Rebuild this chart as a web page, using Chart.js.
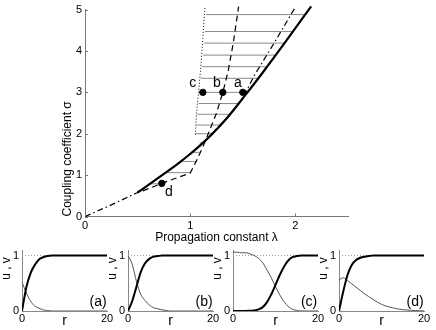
<!DOCTYPE html>
<html>
<head>
<meta charset="utf-8">
<script src="https://cdn.jsdelivr.net/npm/chart.js@4/dist/chart.umd.min.js"></script>
<style>
  body { margin: 0; background: #fff; }
  #wrap { position: relative; width: 436px; height: 330px; overflow: hidden; }
  canvas { position: absolute; }
</style>
</head>
<body>
<div id="wrap">
  <canvas id="main" width="436" height="245" style="left:0px;top:0px"></canvas>
  <canvas id="pa" width="117" height="90" style="left:0px;top:240px"></canvas>
  <canvas id="pb" width="117" height="90" style="left:106px;top:240px"></canvas>
  <canvas id="pc" width="117" height="90" style="left:211px;top:240px"></canvas>
  <canvas id="pd" width="117" height="90" style="left:317px;top:240px"></canvas>
</div>
<script>
// main plot: coupling sigma vs propagation constant lambda
const lamTicks = [0, 1, 2];
const sigTicks = [0, 1, 2, 3, 4, 5];

const lamSolid = [0.50, 0.60, 0.70, 0.80, 0.90, 1.00, 1.10, 1.20, 1.35, 1.52, 1.69, 1.90, 2.15];
const sigSolid = [0.58, 0.76, 0.94, 1.12, 1.31, 1.51, 1.73, 1.97, 2.38, 2.92, 3.48, 4.20, 5.08];

const lamDashDot = [0.00, 0.25, 0.50, 0.70, 0.90, 1.10, 1.35, 1.50, 1.61, 1.80, 1.99];
const sigDashDot = [0.00, 0.28, 0.58, 0.94, 1.31, 1.73, 2.38, 2.86, 3.41, 4.20, 5.02];

const lamDash = [0.55, 0.75, 1.00, 1.06, 1.12, 1.18, 1.25, 1.31, 1.36, 1.41, 1.46];
const sigDash = [0.62, 0.82, 1.05, 1.35, 1.68, 2.05, 2.50, 3.00, 3.50, 4.20, 5.07];

const lamDot = [1.05, 1.06, 1.08, 1.10, 1.12, 1.14];
const sigDot = [1.98, 2.50, 3.00, 3.60, 4.30, 5.05];

// grey hatching lines: level, left end, right end
const hatchSig  = [4.88, 4.47, 4.19, 3.90, 3.62, 3.34, 3.00, 2.73, 2.47, 2.21, 2.00, 1.78, 1.55, 1.33, 1.06, 0.79];
const hatchFrom = [1.15, 1.14, 1.13, 1.12, 1.11, 1.10, 1.09, 1.08, 1.07, 1.06, 1.05, 1.09, 1.02, 0.91, 0.77, 0.62];
const hatchTo   = [2.08, 1.97, 1.89, 1.81, 1.73, 1.64, 1.53, 1.45, 1.38, 1.30, 1.22, 1.13, 1.09, 1.05, 1.01, 0.76];

const markNames = ['a', 'b', 'c', 'd'];
const lamMarks = [1.50, 1.31, 1.12, 0.73];
const sigMarks = [3.00, 3.00, 3.00, 0.80];

// small panels: profiles u (thick) and v (thin) against r
const rTicks = [0, 20];
const uvTicks = [0, 1];
const rGrid = [0, 1, 2, 3, 4, 5, 6, 7, 8, 9, 10, 11, 12, 13, 14, 15, 16, 17, 18, 19, 20];
const uA = [0, 0.42, 0.68, 0.83, 0.93, 0.97, 0.99, 1, 1, 1, 1, 1, 1, 1, 1, 1, 1, 1, 1, 1, 1];
const vA = [0.52, 0.33, 0.18, 0.09, 0.05, 0.02, 0.01, 0, 0, 0, 0, 0, 0, 0, 0, 0, 0, 0, 0, 0, 0];
const uB = [0, 0.18, 0.44, 0.70, 0.86, 0.94, 0.98, 0.99, 1, 1, 1, 1, 1, 1, 1, 1, 1, 1, 1, 1, 1];
const vB = [1.00, 0.84, 0.53, 0.30, 0.19, 0.11, 0.06, 0.04, 0.02, 0.01, 0, 0, 0, 0, 0, 0, 0, 0, 0, 0, 0];
const uC = [0, 0, 0, 0, 0.005, 0.01, 0.03, 0.07, 0.16, 0.30, 0.47, 0.65, 0.80, 0.91, 0.97, 0.99, 1, 1, 1, 1, 1];
const vC = [1.06, 1.06, 1.05, 1.05, 1.03, 1.00, 0.95, 0.87, 0.74, 0.60, 0.44, 0.29, 0.17, 0.08, 0.03, 0.01, 0, 0, 0, 0, 0];
const uD = [0, 0.35, 0.65, 0.83, 0.92, 0.96, 0.98, 0.99, 1, 1, 1, 1, 1, 1, 1, 1, 1, 1, 1, 1, 1];
const vD = [0.56, 0.60, 0.55, 0.49, 0.43, 0.37, 0.31, 0.26, 0.21, 0.16, 0.12, 0.09, 0.07, 0.05, 0.035, 0.025, 0.018, 0.012, 0.008, 0.005, 0.003];

Chart.defaults.font.family = "'Liberation Sans', Arial, Helvetica, sans-serif";
Chart.defaults.color = '#000';

const axisColor = '#777';

function pts(xs, ys) {
  return xs.map((x, i) => ({x: x, y: ys[i]}));
}

function hatchPoints() {
  let out = [];
  for (let i = 0; i < hatchSig.length; i++) {
    out.push({x: hatchFrom[i], y: hatchSig[i]});
    out.push({x: hatchTo[i], y: hatchSig[i]});
    out.push({x: null, y: null});
  }
  return out;
}

// little tick marks drawn inside the axes
const insideTicks = {
  id: 'insideTicks',
  afterDraw(chart) {
    const {ctx, chartArea, scales} = chart;
    ctx.save();
    ctx.strokeStyle = axisColor;
    ctx.lineWidth = 1;
    ctx.beginPath();
    scales.x.ticks.forEach(t => {
      let px = Math.round(scales.x.getPixelForValue(t.value)) + 0.5;
      ctx.moveTo(px, chartArea.bottom);
      ctx.lineTo(px, chartArea.bottom - 3);
    });
    scales.y.ticks.forEach(t => {
      let py = Math.round(scales.y.getPixelForValue(t.value)) + 0.5;
      ctx.moveTo(chartArea.left, py);
      ctx.lineTo(chartArea.left + 3, py);
    });
    ctx.stroke();
    ctx.restore();
  }
};

// letters next to the marked points
const markLabels = {
  id: 'markLabels',
  afterDatasetsDraw(chart, args, opts) {
    const {ctx, scales} = chart;
    ctx.save();
    ctx.font = opts.font;
    ctx.fillStyle = '#000';
    ctx.textAlign = 'center';
    ctx.textBaseline = 'middle';
    markNames.forEach((name, i) => {
      let px = scales.x.getPixelForValue(lamMarks[i]) + opts.offsets[i][0];
      let py = scales.y.getPixelForValue(sigMarks[i]) + opts.offsets[i][1];
      ctx.fillText(name, px, py);
    });
    ctx.restore();
  }
};

// panel tag (a)..(d) and the u,v axis label
const panelText = {
  id: 'panelText',
  afterDraw(chart, args, opts) {
    const {ctx, chartArea, scales} = chart;
    ctx.save();
    ctx.fillStyle = '#000';
    ctx.textBaseline = 'middle';
    ctx.textAlign = 'center';
    ctx.font = "14px 'Liberation Sans', Arial, sans-serif";
    ctx.fillText(opts.tag, scales.x.getPixelForValue(17.9), scales.y.getPixelForValue(0.16));
    ctx.font = "12px 'Liberation Sans', Arial, sans-serif";
    ctx.translate(chartArea.left - 15, (chartArea.top + chartArea.bottom) / 2 - 12);
    ctx.rotate(-Math.PI / 2);
    ctx.fillText('u , v', 0, 0);
    ctx.restore();
  }
};

let mainChart = new Chart(document.getElementById('main'), {
  type: 'scatter',
  data: {
    datasets: [
      {
        data: pts(lamMarks, sigMarks),
        showLine: false,
        pointRadius: 3.2,
        pointBackgroundColor: '#000',
        pointBorderColor: '#000',
        clip: false
      },
      {
        data: pts(lamSolid, sigSolid),
        showLine: true,
        borderColor: '#000',
        borderWidth: 2.2,
        pointRadius: 0,
        cubicInterpolationMode: 'monotone',
        clip: false
      },
      {
        data: pts(lamDashDot, sigDashDot),
        showLine: true,
        borderColor: '#000',
        borderWidth: 1.2,
        borderDash: [6, 3, 1.5, 3],
        pointRadius: 0,
        clip: false
      },
      {
        data: pts(lamDash, sigDash),
        showLine: true,
        borderColor: '#000',
        borderWidth: 1.2,
        borderDash: [6, 4],
        pointRadius: 0,
        clip: false
      },
      {
        data: pts(lamDot, sigDot),
        showLine: true,
        borderColor: '#000',
        borderWidth: 1,
        borderDash: [1, 2],
        pointRadius: 0,
        clip: false
      },
      {
        data: hatchPoints(),
        showLine: true,
        spanGaps: false,
        borderColor: '#8a8a8a',
        borderWidth: 1,
        pointRadius: 0
      }
    ]
  },
  options: {
    responsive: false,
    animation: false,
    events: [],
    layout: { padding: { top: 6, right: 88, left: 0, bottom: 0 } },
    plugins: {
      legend: { display: false },
      tooltip: { enabled: false },
      markLabels: { font: "14px 'Liberation Sans', Arial, sans-serif", offsets: [[-5, -9], [-6, -9], [-10, -9], [7, 9]] }
    },
    scales: {
      x: {
        type: 'linear',
        min: 0,
        max: 2.5,
        afterBuildTicks: a => { a.ticks = lamTicks.map(v => ({value: v})); },
        afterFit: a => { a.height = 28.5; },
        grid: { display: false, drawTicks: false },
        border: { color: axisColor },
        ticks: { padding: 3, maxRotation: 0, font: { size: 11 } },
        title: { display: true, text: 'Propagation constant λ', padding: 0, font: { size: 12 } }
      },
      y: {
        type: 'linear',
        min: 0,
        max: 5,
        afterBuildTicks: a => { a.ticks = sigTicks.map(v => ({value: v})); },
        afterFit: a => { a.width = 85; },
        grid: { display: false, drawTicks: false },
        border: { color: axisColor },
        ticks: { padding: 3, font: { size: 11 } },
        title: { display: true, text: 'Coupling coefficient σ', align: 'start', padding: { top: 60, bottom: 0 }, font: { size: 12 } }
      }
    }
  },
  plugins: [insideTicks, markLabels]
});

function makePanel(id, uVals, vVals, tag) {
  return new Chart(document.getElementById(id), {
    type: 'scatter',
    data: {
      datasets: [
        {
          data: pts(rGrid, uVals),
          showLine: true,
          borderColor: '#000',
          borderWidth: 2,
          pointRadius: 0,
          cubicInterpolationMode: 'monotone'
        },
        {
          data: pts(rGrid, vVals),
          showLine: true,
          borderColor: '#555',
          borderWidth: 1,
          pointRadius: 0,
          cubicInterpolationMode: 'monotone'
        },
        {
          data: pts(rTicks, [1, 1]),
          showLine: true,
          borderColor: '#999',
          borderWidth: 1,
          borderDash: [1, 2],
          pointRadius: 0
        }
      ]
    },
    options: {
      responsive: false,
      animation: false,
      events: [],
      layout: { padding: { top: 10, right: 10, left: 0, bottom: 0 } },
      plugins: {
        legend: { display: false },
        tooltip: { enabled: false },
        panelText: { tag: tag }
      },
      scales: {
        x: {
          type: 'linear',
          min: 0,
          max: 20,
          afterBuildTicks: a => { a.ticks = rTicks.map(v => ({value: v})); },
          afterFit: a => { a.height = 19; },
          grid: { display: false, drawTicks: false },
          border: { color: '#888' },
          ticks: { padding: 1, maxRotation: 0, font: { size: 11 } },
          title: { display: true, text: 'r', padding: 0, font: { size: 14 } }
        },
        y: {
          type: 'linear',
          min: 0,
          max: 1.1,
          afterBuildTicks: a => { a.ticks = uvTicks.map(v => ({value: v})); },
          afterFit: a => { a.width = 22; },
          grid: { display: false, drawTicks: false },
          border: { color: '#888' },
          ticks: { padding: 3, font: { size: 11 } }
        }
      }
    },
    plugins: [panelText]
  });
}

makePanel('pa', uA, vA, '(a)');
makePanel('pb', uB, vB, '(b)');
makePanel('pc', uC, vC, '(c)');
makePanel('pd', uD, vD, '(d)');
</script>
</body>
</html>
